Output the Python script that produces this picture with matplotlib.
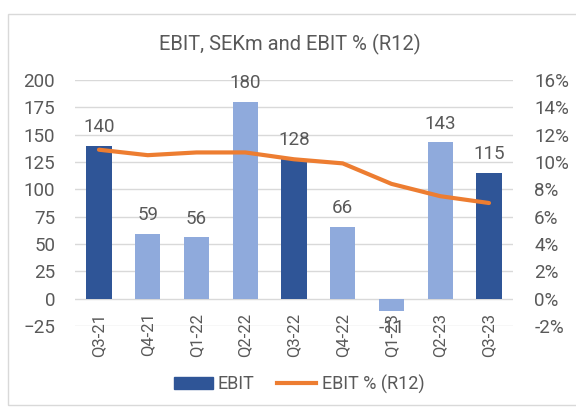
import matplotlib.pyplot as plt
from matplotlib.patches import Rectangle, Patch
from matplotlib.lines import Line2D
from matplotlib.ticker import FuncFormatter

plt.rcParams['font.family'] = ['Roboto', 'DejaVu Sans']

# Data
quarters = ["Q3-21", "Q4-21", "Q1-22", "Q2-22", "Q3-22", "Q4-22", "Q1-23", "Q2-23", "Q3-23"]
ebit = [140, 59, 56, 180, 128, 66, -11, 143, 115]
ebit_pct = [10.9, 10.5, 10.7, 10.7, 10.2, 9.9, 8.4, 7.5, 7.0]

dark = "#2F5597"
light = "#8FAADC"
orange = "#ED7D31"
grey_txt = "#595959"
colors = [dark if q.startswith("Q3") else light for q in quarters]

fig = plt.figure(figsize=(5.76, 4.07), dpi=100)
fig.patches.append(Rectangle((8 / 576, 0.005), 0.99, 1 - 14 / 407 - 0.005,
                             transform=fig.transFigure, fill=False,
                             edgecolor="#D9D9D9", linewidth=1))

ax = fig.add_axes([0.1295, 0.199, 0.7618, 0.6044])
x = range(len(quarters))
ax.bar(x, ebit, width=0.52, color=colors, zorder=2)
ax.set_xlim(-0.5, len(quarters) - 0.5)
ax.set_ylim(-25, 200)
ax.set_yticks(range(-25, 201, 25))
ax.grid(axis="y", color="#D9D9D9", linewidth=1, zorder=0)
ax.set_xticks([])
for s in ax.spines.values():
    s.set_visible(False)
ax.tick_params(axis="y", length=0, labelsize=13.5, colors=grey_txt, pad=14)

# data labels
for i, v in enumerate(ebit):
    if v >= 0:
        ax.annotate(str(v), (i, v), xytext=(0, 7), textcoords="offset points",
                    ha="center", va="bottom", fontsize=13.5, color=grey_txt)
    else:
        ax.annotate(str(v), (i, v), xytext=(0, -6), textcoords="offset points",
                    ha="center", va="top", fontsize=13.5, color=grey_txt, zorder=5)

# category labels at the zero line
for i, q in enumerate(quarters):
    ax.annotate(q, (i, 0), xytext=(0, -10), textcoords="offset points",
                ha="center", va="top", rotation=90, fontsize=12, color=grey_txt)

ax2 = ax.twinx()
ax2.plot(x, ebit_pct, color=orange, linewidth=3, solid_capstyle="round", zorder=3)
ax2.set_ylim(-2, 16)
ax2.set_yticks(range(-2, 17, 2))
ax2.yaxis.set_major_formatter(FuncFormatter(lambda v, p: f"{v:.0f}%"))
for s in ax2.spines.values():
    s.set_visible(False)
ax2.tick_params(axis="y", length=0, labelsize=13.5, colors=grey_txt, pad=15)

fig.text(0.503, 1 - 44 / 407, "EBIT, SEKm and EBIT % (R12)", ha="center", va="center",
         fontsize=14.5, color=grey_txt)

handles = [Patch(color=dark, label="EBIT"),
           Line2D([0], [0], color=orange, linewidth=3, label="EBIT % (R12)")]
fig.legend(handles=handles, loc="center", bbox_to_anchor=(0.519, 1 - 384 / 407),
           ncol=2, frameon=False, fontsize=13, handlelength=2.15, handleheight=0.72,
           columnspacing=1.25, handletextpad=0.3, labelcolor=grey_txt)

fig.savefig("out.png", dpi=100)
